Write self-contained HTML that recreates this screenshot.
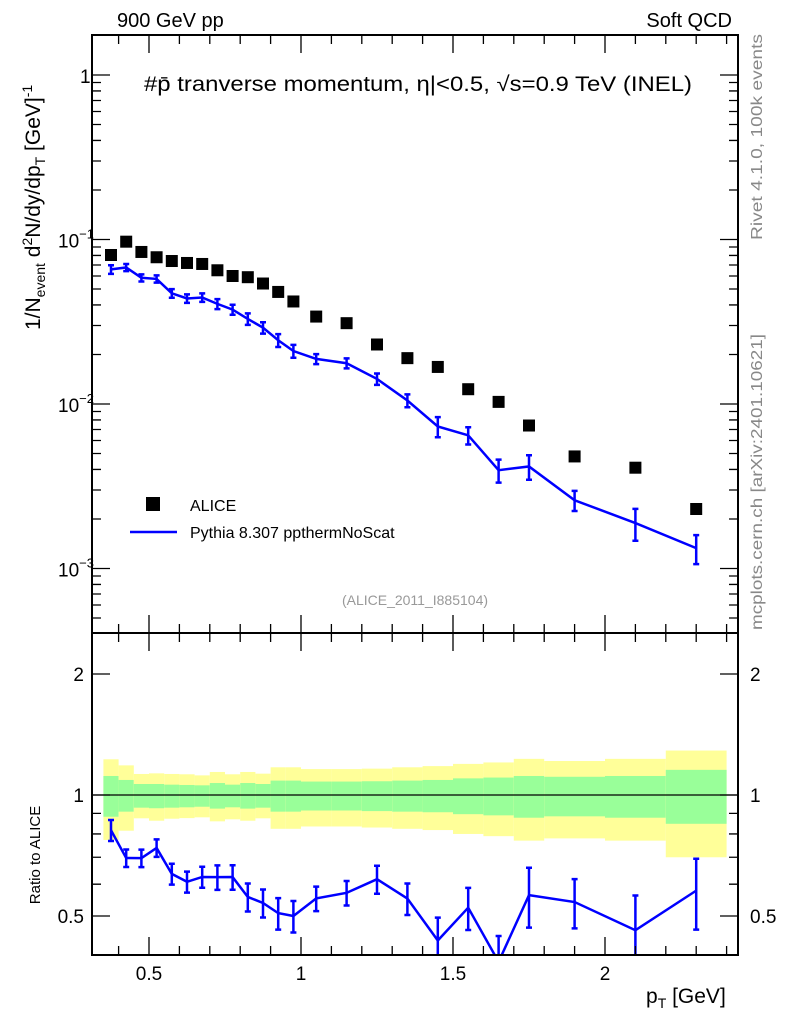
<!DOCTYPE html>
<html><head><meta charset="utf-8"><style>
body{margin:0;background:#fff;}
svg{display:block;font-family:"Liberation Sans",Arial,sans-serif;}
</style></head><body>
<svg id="c" width="786" height="1024" xmlns="http://www.w3.org/2000/svg">
<rect width="786" height="1024" fill="#fff"/>
<g id="bands"></g>
<g id="marks"></g>
<g id="axes"></g>
<text x="117" y="27" font-size="20">900 GeV pp</text>
<text x="732" y="27" font-size="20" text-anchor="end">Soft QCD</text>
<text x="144" y="91" font-size="21" textLength="548" lengthAdjust="spacingAndGlyphs">#p̄ tranverse momentum, η|&lt;0.5, √s=0.9 TeV (INEL)</text>
<text x="415" y="605" font-size="14" fill="#999" text-anchor="middle">(ALICE_2011_I885104)</text>
<text transform="translate(762,240) rotate(-90)" font-size="16" fill="#888" textLength="206" lengthAdjust="spacingAndGlyphs">Rivet 4.1.0,  100k events</text>
<text transform="translate(762,630) rotate(-90)" font-size="16" fill="#888" textLength="296" lengthAdjust="spacingAndGlyphs">mcplots.cern.ch [arXiv:2401.10621]</text>
<text transform="translate(40,330) rotate(-90)" font-size="21">1/N<tspan font-size="14" dy="5">event</tspan><tspan dy="-5"> d</tspan><tspan font-size="14" dy="-8">2</tspan><tspan dy="8">N/dy/dp</tspan><tspan font-size="14" dy="5">T</tspan><tspan dy="-5"> [GeV]</tspan><tspan font-size="14" dy="-8">-1</tspan></text>
<text transform="translate(40,855) rotate(-90)" font-size="15" text-anchor="middle">Ratio to ALICE</text>
<text x="646" y="1003" font-size="21">p<tspan font-size="14" dy="5">T</tspan><tspan dy="-5"> [GeV]</tspan></text>
<rect x="146" y="497" width="14" height="14" fill="#000"/>
<text x="190" y="511" font-size="16">ALICE</text>
<line x1="130" y1="532" x2="177" y2="532" stroke="#00f" stroke-width="2.5"/>
<text x="190" y="538" font-size="16">Pythia 8.307 ppthermNoScat</text>
</svg>
<script>
const xs=[0.375,0.425,0.475,0.525,0.575,0.625,0.675,0.725,0.775,0.825,0.875,0.925,0.975,1.05,1.15,1.25,1.35,1.45,1.55,1.65,1.75,1.9,2.1,2.3];
const edges=[0.35,0.4,0.45,0.5,0.55,0.6,0.65,0.7,0.75,0.8,0.85,0.9,0.95,1.0,1.1,1.2,1.3,1.4,1.5,1.6,1.7,1.8,2.0,2.2,2.4];
const alice=[0.0805,0.097,0.084,0.078,0.074,0.072,0.071,0.065,0.060,0.059,0.054,0.048,0.042,0.034,0.031,0.023,0.019,0.0168,0.0123,0.0103,0.0074,0.0048,0.0041,0.0023];
const pythia=[0.0658,0.0676,0.0585,0.0576,0.0471,0.0438,0.0444,0.0406,0.0375,0.0329,0.0291,0.0244,0.021,0.0188,0.0177,0.0142,0.0105,0.0073,0.00645,0.00396,0.00417,0.0026,0.00189,0.00133];
const pyErr=[0.06,0.05,0.05,0.05,0.06,0.06,0.06,0.07,0.07,0.08,0.08,0.09,0.09,0.07,0.07,0.08,0.09,0.14,0.12,0.16,0.17,0.14,0.22,0.20];
const greenUp=[1.115,1.090,1.065,1.065,1.061,1.059,1.057,1.071,1.061,1.071,1.065,1.086,1.086,1.080,1.080,1.082,1.086,1.090,1.10,1.105,1.115,1.11,1.115,1.155];
const greenDn=[0.883,0.909,0.930,0.927,0.930,0.932,0.935,0.925,0.932,0.925,0.930,0.909,0.909,0.915,0.915,0.912,0.909,0.906,0.896,0.890,0.878,0.885,0.878,0.848];
const yellowUp=[1.227,1.185,1.128,1.132,1.128,1.126,1.119,1.141,1.126,1.141,1.13,1.172,1.172,1.16,1.16,1.163,1.172,1.18,1.195,1.205,1.23,1.215,1.23,1.29];
const yellowDn=[0.773,0.815,0.875,0.863,0.873,0.876,0.880,0.860,0.870,0.863,0.875,0.824,0.824,0.835,0.835,0.830,0.824,0.818,0.80,0.79,0.77,0.78,0.77,0.70];
const xTicks=[0.5,1,1.5,2];
const xTickLabels=["0.5","1","1.5","2"];
const yTicks=[1,0.1,0.01,0.001];
const yTickLabels=["1","10","10","10"];
const yTickExp=["","−1","−2","−3"];
const rTicks=[0.5,1,2];
const rTickLabels=["0.5","1","2"];

const L=92,R=738,T=35,M=633,B=955;
const X=v=>-3+304*v;
const Y=v=>75-164.5*Math.log10(v);
const RY=v=>795-402*Math.log10(v);
const NS="http://www.w3.org/2000/svg";
function mk(parent,tag,attrs){const e=document.createElementNS(NS,tag);for(const k in attrs)e.setAttribute(k,attrs[k]);document.getElementById(parent).appendChild(e);return e;}
const clip=v=>Math.max(M,Math.min(B,v));

for(let i=0;i<edges.length-1;i++){
  const x1=X(edges[i]),x2=X(edges[i+1]);
  let e=mk('bands','rect',{x:x1,y:clip(RY(yellowUp[i])),width:x2-x1,height:clip(RY(yellowDn[i]))-clip(RY(yellowUp[i])),fill:'#ffff99'});
  
  
  e=mk('bands','rect',{x:x1,y:RY(greenUp[i]),width:x2-x1,height:RY(greenDn[i])-RY(greenUp[i]),fill:'#99ff99'});
  
  
}
let ln=mk('marks','line',{x1:L,x2:R,y1:RY(1),y2:RY(1),stroke:'#000','stroke-width':1.2});



alice.forEach((v,i)=>{
  const e=mk('marks','rect',{x:X(xs[i])-6,y:Y(v)-6,width:12,height:12,fill:'#000'});
  
  
});
let p=mk('marks','polyline',{points:pythia.map((v,i)=>X(xs[i])+','+Y(v)).join(' '),fill:'none',stroke:'#00f','stroke-width':2.5});


pythia.forEach((v,i)=>{
  const x=X(xs[i]),y1=Y(v*(1+pyErr[i])),y2=Y(v*(1-pyErr[i]));
  const e=mk('marks','path',{d:`M${x},${y1}V${y2}M${x-3},${y1}h6M${x-3},${y2}h6`,stroke:'#00f','stroke-width':2.5,fill:'none'});
  
  
});
const ratio=pythia.map((v,i)=>v/alice[i]);
const cp=mk('marks','clipPath',{id:'rc'});
const cr=document.createElementNS(NS,'rect');
cr.setAttribute('x',L);cr.setAttribute('y',M);cr.setAttribute('width',R-L);cr.setAttribute('height',B-M);
cp.appendChild(cr);
p=mk('marks','polyline',{points:ratio.map((v,i)=>X(xs[i])+','+RY(v)).join(' '),fill:'none',stroke:'#00f','stroke-width':2.5,'clip-path':'url(#rc)'});


ratio.forEach((v,i)=>{
  const x=X(xs[i]),y1=RY(v*(1+pyErr[i])),y2=RY(v*(1-pyErr[i]));
  const e=mk('marks','path',{d:`M${x},${y1}V${y2}M${x-3},${y1}h6M${x-3},${y2}h6`,stroke:'#00f','stroke-width':2.5,fill:'none','clip-path':'url(#rc)'});
  
  
});

[[T,M],[M,B]].forEach(([a,b])=>{
  const e=mk('axes','rect',{x:L,y:a,width:R-L,height:b-a,fill:'none',stroke:'#000','stroke-width':2});
  
  
});
let d='';
for(let v=0.3;v<=2.45;v+=0.1){const x=X(Math.round(v*10)/10);if(x<L||x>R)continue;const major=Math.abs(v*2-Math.round(v*2))<1e-6;const len=major?18:9;
  d+=`M${x},${T}v${len}M${x},${M}v-${len}M${x},${M}v${len}M${x},${B}v-${len}`;}
for(let e=-4;e<=0;e++){for(let k=1;k<10;k++){const v=k*Math.pow(10,e);const y=Y(v);if(y<T||y>M)continue;const len=k==1?18:9;d+=`M${L},${y}h${len}M${R},${y}h-${len}`;}}
[0.4,0.5,0.6,0.7,0.8,0.9,1,2].forEach(v=>{const y=RY(v);if(y<M||y>B)return;const len=(v==0.5||v==1||v==2)?18:9;d+=`M${L},${y}h${len}M${R},${y}h-${len}`;});
let t=mk('axes','path',{d:d,stroke:'#000','stroke-width':1.3,fill:'none'});


xTicks.forEach((v,i)=>{const e=mk('axes','text',{x:X(v),y:980,'font-size':19,'text-anchor':'middle'});e.textContent=xTickLabels[i];
  
  });
yTicks.forEach((v,i)=>{const e=mk('axes','text',{x:i==0?80:58,y:Y(v)+8,'font-size':19});e.textContent=yTickLabels[i];
  if(yTickExp[i]){const s=document.createElementNS(NS,'tspan');s.setAttribute('font-size',13);s.setAttribute('dy',-9);s.textContent=yTickExp[i];e.appendChild(s);}
  
  });
rTicks.forEach((v,i)=>{[[84,'end'],[750,'start']].forEach(([x,a])=>{const e=mk('axes','text',{x:x,y:RY(v)+7,'font-size':19,'text-anchor':a});e.textContent=rTickLabels[i];
  
  });});
</script>
</body></html>
